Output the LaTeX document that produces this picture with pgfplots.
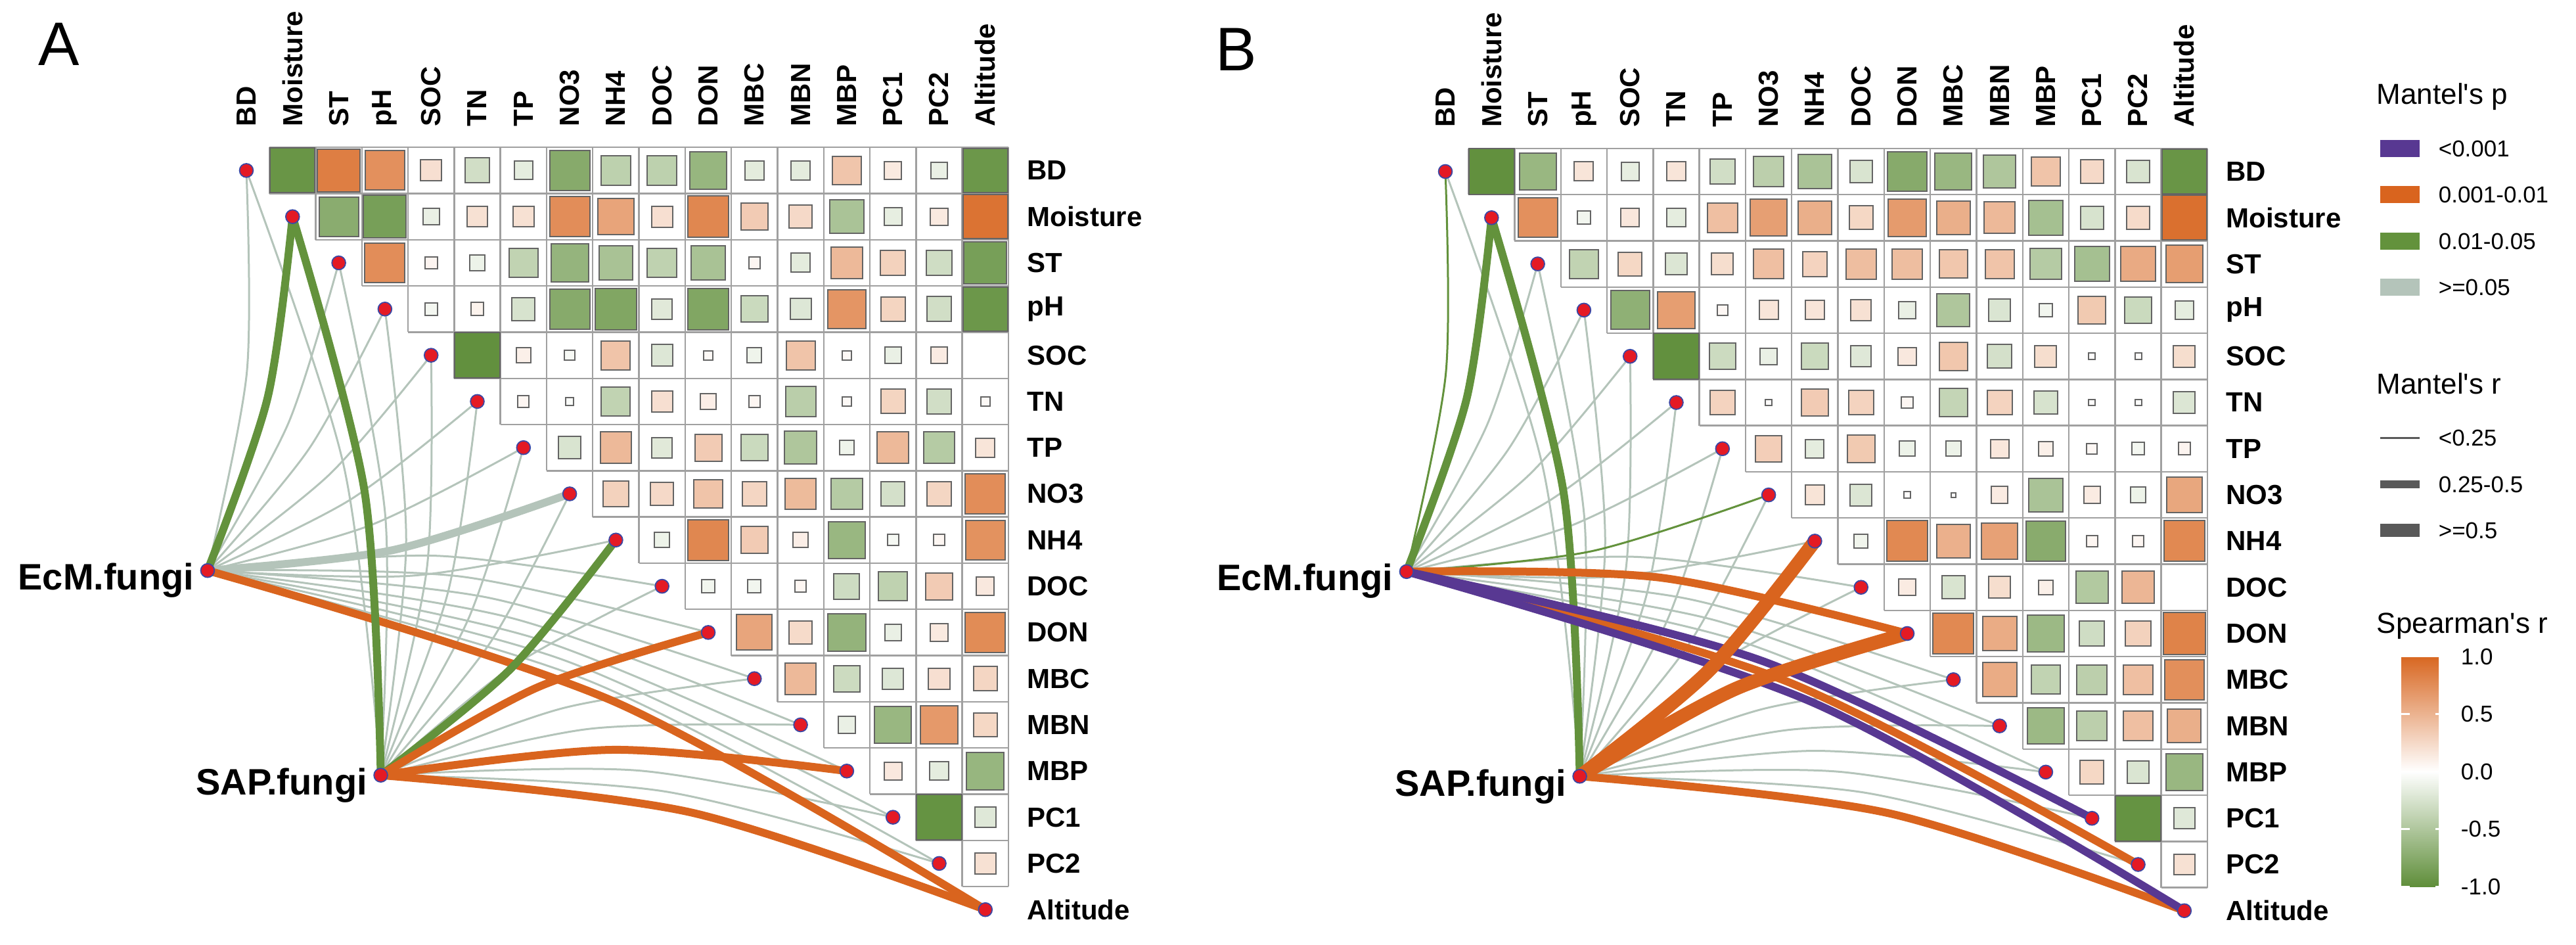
\documentclass[border=0pt]{standalone}
\usepackage{pgfplots}
\pgfplotsset{compat=1.18}
\usepackage{pgfplotstable}
\usepackage{fontspec}
\setmainfont{Liberation Sans}
\newfontfamily\lsans{Liberation Sans}

\definecolor{lgrey}{RGB}{180,196,186}
\definecolor{lorange}{RGB}{217,100,30}
\definecolor{lgreen}{RGB}{99,146,60}
\definecolor{lpurple}{RGB}{88,56,146}
\definecolor{ldark}{RGB}{89,89,89}
\definecolor{gridc}{RGB}{160,160,160}
\definecolor{sqedge}{RGB}{100,100,100}
\definecolor{dotred}{RGB}{228,26,36}
\definecolor{dotblue}{RGB}{60,72,165}

\newcommand\labfont{\lsans\bfseries\fontsize{10.5}{12}\selectfont}
\newcommand\srcfont{\lsans\bfseries\fontsize{14}{16}\selectfont}
\newcommand\legtitle{\lsans\fontsize{11}{13}\selectfont}
\newcommand\leglab{\lsans\fontsize{8.75}{10}\selectfont}

\pgfplotsset{
  colormap={gwo}{rgb255=(95,142,58) rgb255=(255,255,255) rgb255=(216,103,33)},
  panel/.style={
    x=17.575pt, y=17.575pt,
    xmin=-0.5, xmax=16.5, ymin=-16.5, ymax=0.5,
    anchor=south west, clip=false,
    axis line style={draw=none}, tick style={draw=none}, major tick length=0pt,
    xtick={0,1,2,3,4,5,6,7,8,9,10,11,12,13,14,15,16},
    xticklabels={BD,Moisture,ST,pH,SOC,TN,TP,NO3,NH4,DOC,DON,MBC,MBN,MBP,PC1,PC2,Altitude},
    xticklabel pos=right,
    xticklabel style={rotate=90, anchor=west, inner sep=0pt, font=\labfont},
    xticklabel shift=7.8pt,
    ytick={-16,-15,-14,-13,-12,-11,-10,-9,-8,-7,-6,-5,-4,-3,-2,-1,0},
    yticklabels={Altitude,PC2,PC1,MBP,MBN,MBC,DON,DOC,NH4,NO3,TP,TN,SOC,pH,ST,Moisture,BD},
    yticklabel pos=right,
    yticklabel style={anchor=west, inner sep=0pt, font=\labfont},
    yticklabel shift=6.9pt,
    colormap name=gwo, point meta min=-1, point meta max=1,
  },
  gridlines/.style={gridc, line width=0.6pt, unbounded coords=jump},
  sq/.style={scatter, only marks, mark=square*, point meta=explicit,
    scatter/use mapped color={draw=sqedge, fill=mapped color},
    visualization depends on={8.7875*sqrt(abs(\thisrow{r})) \as \msz},
    scatter/@pre marker code/.append style={/tikz/mark size=\msz},
    mark options={line width=0.5pt}},
  dots/.style={only marks, mark=*, mark size=2.6pt,
    mark options={fill=dotred, draw=dotblue, line width=0.45pt}},
  lk/.style={smooth, line cap=butt},
  pG/.style={lgrey}, pO/.style={lorange}, pN/.style={lgreen}, pP/.style={lpurple},
  r1/.style={line width=0.75pt}, r2/.style={line width=3pt}, r3/.style={line width=5.2pt},
}

% Spearman correlations, panel A (x = column, y = -row)
\pgfplotstableread{
x y r
1 0 -0.94
2 0 0.85
3 0 0.73
4 0 0.21
5 0 -0.29
6 0 -0.16
7 0 -0.75
8 0 -0.41
9 0 -0.41
10 0 -0.65
11 0 -0.17
12 0 -0.17
13 0 0.38
14 0 0.14
15 0 -0.13
16 0 -0.92
2 -1 -0.73
3 -1 -0.85
4 -1 -0.13
5 -1 0.20
6 -1 0.20
7 -1 0.75
8 -1 0.60
9 -1 0.21
10 -1 0.79
11 -1 0.34
12 -1 0.25
13 -1 -0.53
14 -1 -0.15
15 -1 0.14
16 -1 0.92
3 -2 0.75
4 -2 0.07
5 -2 -0.11
6 -2 -0.39
7 -2 -0.66
8 -2 -0.54
9 -2 -0.40
10 -2 -0.54
11 -2 0.06
12 -2 -0.17
13 -2 0.46
14 -2 0.30
15 -2 -0.30
16 -2 -0.85
4 -3 -0.07
5 -3 0.08
6 -3 -0.25
7 -3 -0.75
8 -3 -0.79
9 -3 -0.19
10 -3 -0.79
11 -3 -0.33
12 -3 -0.21
13 -3 0.70
14 -3 0.28
15 -3 -0.29
16 -3 -0.92
5 -4 -0.98
6 -4 0.10
7 -4 -0.05
8 -4 0.39
9 -4 -0.21
10 -4 0.04
11 -4 -0.10
12 -4 0.39
13 -4 0.04
14 -4 -0.13
15 -4 0.13
6 -5 0.06
7 -5 -0.03
8 -5 -0.39
9 -5 0.21
10 -5 0.11
11 -5 0.06
12 -5 -0.43
13 -5 0.04
14 -5 0.28
15 -5 -0.29
16 -5 0.04
7 -6 -0.24
8 -6 0.46
9 -6 -0.19
10 -6 0.34
11 -6 -0.33
12 -6 -0.50
13 -6 -0.10
14 -6 0.46
15 -6 -0.46
16 -6 0.17
8 -7 0.30
9 -7 0.25
10 -7 0.39
11 -7 0.27
12 -7 0.45
13 -7 -0.46
14 -7 -0.27
15 -7 0.27
16 -7 0.75
9 -8 -0.11
10 -8 0.79
11 -8 0.34
12 -8 0.11
13 -8 -0.64
14 -8 -0.06
15 -8 0.06
16 -8 0.72
10 -9 -0.08
11 -9 -0.08
12 -9 0.06
13 -9 -0.31
14 -9 -0.40
15 -9 0.34
16 -9 0.15
11 -10 0.59
12 -10 0.24
13 -10 -0.67
14 -10 -0.13
15 -10 0.14
16 -10 0.76
12 -11 0.46
13 -11 -0.32
14 -11 -0.21
15 -11 0.21
16 -11 0.27
13 -12 -0.13
14 -12 -0.64
15 -12 0.67
16 -12 0.26
14 -13 0.15
15 -13 -0.16
16 -13 -0.65
15 -14 -0.96
16 -14 -0.20
16 -15 0.20
}\tabA

% Spearman correlations, panel B
\pgfplotstableread{
x y r
1 0 -0.98
2 0 -0.64
3 0 0.17
4 0 -0.15
5 0 0.17
6 0 -0.29
7 0 -0.42
8 0 -0.53
9 0 -0.24
10 0 -0.75
11 0 -0.64
12 0 -0.50
13 0 0.39
14 0 0.25
15 0 -0.24
16 0 -0.94
2 -1 0.73
3 -1 -0.08
4 -1 0.16
5 -1 -0.16
6 -1 0.42
7 -1 0.63
8 -1 0.53
9 -1 0.26
10 -1 0.66
11 -1 0.53
12 -1 0.46
13 -1 -0.56
14 -1 -0.25
15 -1 0.24
16 -1 0.94
3 -2 -0.39
4 -2 0.26
5 -2 -0.22
6 -2 0.22
7 -2 0.42
8 -2 0.29
9 -2 0.43
10 -2 0.43
11 -2 0.37
12 -2 0.39
13 -2 -0.46
14 -2 -0.56
15 -2 0.56
16 -2 0.64
4 -3 -0.70
5 -3 0.64
6 -3 0.05
7 -3 0.17
8 -3 0.17
9 -3 0.20
10 -3 -0.13
11 -3 -0.50
12 -3 -0.23
13 -3 -0.08
14 -3 0.35
15 -3 -0.33
16 -3 -0.16
5 -4 -0.98
6 -4 -0.32
7 -4 -0.13
8 -4 -0.33
9 -4 -0.20
10 -4 0.15
11 -4 0.37
12 -4 -0.27
13 -4 0.22
14 -4 0.02
15 -4 0.02
16 -4 0.22
6 -5 0.29
7 -5 0.02
8 -5 0.34
9 -5 0.29
10 -5 0.06
11 -5 -0.37
12 -5 0.29
13 -5 -0.25
14 -5 0.02
15 -5 -0.02
16 -5 -0.22
7 -6 0.32
8 -6 -0.16
9 -6 0.35
10 -6 -0.11
11 -6 -0.11
12 -6 0.16
13 -6 0.10
14 -6 0.05
15 -6 -0.07
16 -6 0.07
8 -7 0.18
9 -7 -0.22
10 -7 0.02
11 -7 0.01
12 -7 0.13
13 -7 -0.53
14 -7 0.13
15 -7 -0.11
16 -7 0.58
9 -8 -0.09
10 -8 0.78
11 -8 0.52
12 -8 0.62
13 -8 -0.74
14 -8 0.06
15 -8 0.06
16 -8 0.78
10 -9 0.13
11 -9 -0.24
12 -9 0.22
13 -9 0.10
14 -9 -0.48
15 -9 0.48
11 -10 0.78
12 -10 0.55
13 -10 -0.62
14 -10 -0.30
15 -10 0.30
16 -10 0.82
12 -11 0.55
13 -11 -0.39
14 -11 -0.42
15 -11 0.42
16 -11 0.74
13 -12 -0.62
14 -12 -0.42
15 -12 0.42
16 -12 0.53
14 -13 0.26
15 -13 -0.23
16 -13 -0.64
15 -14 -0.96
16 -14 -0.20
16 -15 0.20
}\tabB

\newcommand\gridplot{%
\addplot[gridlines] coordinates {
(0.5,0.5) (16.5,0.5) (nan,nan)
(0.5,-0.5) (16.5,-0.5) (nan,nan)
(1.5,-1.5) (16.5,-1.5) (nan,nan)
(2.5,-2.5) (16.5,-2.5) (nan,nan)
(3.5,-3.5) (16.5,-3.5) (nan,nan)
(4.5,-4.5) (16.5,-4.5) (nan,nan)
(5.5,-5.5) (16.5,-5.5) (nan,nan)
(6.5,-6.5) (16.5,-6.5) (nan,nan)
(7.5,-7.5) (16.5,-7.5) (nan,nan)
(8.5,-8.5) (16.5,-8.5) (nan,nan)
(9.5,-9.5) (16.5,-9.5) (nan,nan)
(10.5,-10.5) (16.5,-10.5) (nan,nan)
(11.5,-11.5) (16.5,-11.5) (nan,nan)
(12.5,-12.5) (16.5,-12.5) (nan,nan)
(13.5,-13.5) (16.5,-13.5) (nan,nan)
(14.5,-14.5) (16.5,-14.5) (nan,nan)
(15.5,-15.5) (16.5,-15.5) (nan,nan)
(0.5,0.5) (0.5,-0.5) (nan,nan)
(1.5,0.5) (1.5,-1.5) (nan,nan)
(2.5,0.5) (2.5,-2.5) (nan,nan)
(3.5,0.5) (3.5,-3.5) (nan,nan)
(4.5,0.5) (4.5,-4.5) (nan,nan)
(5.5,0.5) (5.5,-5.5) (nan,nan)
(6.5,0.5) (6.5,-6.5) (nan,nan)
(7.5,0.5) (7.5,-7.5) (nan,nan)
(8.5,0.5) (8.5,-8.5) (nan,nan)
(9.5,0.5) (9.5,-9.5) (nan,nan)
(10.5,0.5) (10.5,-10.5) (nan,nan)
(11.5,0.5) (11.5,-11.5) (nan,nan)
(12.5,0.5) (12.5,-12.5) (nan,nan)
(13.5,0.5) (13.5,-13.5) (nan,nan)
(14.5,0.5) (14.5,-14.5) (nan,nan)
(15.5,0.5) (15.5,-15.5) (nan,nan)
(16.5,0.5) (16.5,-15.5)
};}

\newcommand\dotsplot{%
\addplot[dots] coordinates {(0,0) (1,-1) (2,-2) (3,-3) (4,-4) (5,-5) (6,-6) (7,-7) (8,-8) (9,-9) (10,-10) (11,-11) (12,-12) (13,-13) (14,-14) (15,-15) (16,-16) (-0.84,-8.66) (2.91,-13.09)};
\node[anchor=base east, inner sep=0pt, xshift=-5pt, yshift=-7.3pt, font=\srcfont] at (axis cs:-0.84,-8.66) {EcM.fungi};
\node[anchor=base east, inner sep=0pt, xshift=-5pt, yshift=-7.5pt, font=\srcfont] at (axis cs:2.91,-13.09) {SAP.fungi};}

\begin{document}
\begin{tikzpicture}
\path[use as bounding box] (0,0) rectangle (980.25pt,359.25pt);

% ================= Panel A =================
\begin{axis}[panel, at={(84.9625pt,4.4125pt)}]
\gridplot
\addplot[sq] table[x=x, y=y, meta=r] {\tabA};
% EcM.fungi links
\addplot[lk,pG,r1] coordinates {(-0.84,-8.66) (0.01,-4.37) (0,0)};
\addplot[lk,pG,r1] coordinates {(-0.84,-8.66) (0.91,-5.47) (2,-2)};
\addplot[lk,pG,r1] coordinates {(-0.84,-8.66) (1.36,-6.02) (3,-3)};
\addplot[lk,pG,r1] coordinates {(-0.84,-8.66) (1.81,-6.57) (4,-4)};
\addplot[lk,pG,r1] coordinates {(-0.84,-8.66) (2.26,-7.12) (5,-5)};
\addplot[lk,pG,r1] coordinates {(-0.84,-8.66) (2.71,-7.67) (6,-6)};
\addplot[lk,pG,r1] coordinates {(-0.84,-8.66) (3.61,-8.77) (8,-8)};
\addplot[lk,pG,r1] coordinates {(-0.84,-8.66) (4.10,-8.34) (9,-9)};
\addplot[lk,pG,r1] coordinates {(-0.84,-8.66) (4.65,-8.79) (10,-10)};
\addplot[lk,pG,r1] coordinates {(-0.84,-8.66) (5.20,-9.24) (11,-11)};
\addplot[lk,pG,r1] coordinates {(-0.84,-8.66) (5.75,-9.69) (12,-12)};
\addplot[lk,pG,r1] coordinates {(-0.84,-8.66) (6.30,-10.14) (13,-13)};
\addplot[lk,pG,r1] coordinates {(-0.84,-8.66) (6.85,-10.59) (14,-14)};
\addplot[lk,pG,r1] coordinates {(-0.84,-8.66) (7.40,-11.04) (15,-15)};
% SAP.fungi links
\addplot[lk,pG,r1] coordinates {(2.91,-13.09) (2.11,-6.40) (0,0)};
\addplot[lk,pG,r1] coordinates {(2.91,-13.09) (3.01,-7.50) (2,-2)};
\addplot[lk,pG,r1] coordinates {(2.91,-13.09) (3.46,-8.05) (3,-3)};
\addplot[lk,pG,r1] coordinates {(2.91,-13.09) (3.91,-8.60) (4,-4)};
\addplot[lk,pG,r1] coordinates {(2.91,-13.09) (4.36,-9.15) (5,-5)};
\addplot[lk,pG,r1] coordinates {(2.91,-13.09) (4.81,-9.70) (6,-6)};
\addplot[lk,pG,r1] coordinates {(2.91,-13.09) (5.26,-10.25) (7,-7)};
\addplot[lk,pG,r1] coordinates {(2.91,-13.09) (5.75,-10.74) (9,-9)};
\addplot[lk,pG,r1] coordinates {(2.91,-13.09) (6.85,-11.64) (11,-11)};
\addplot[lk,pG,r1] coordinates {(2.91,-13.09) (7.40,-12.09) (12,-12)};
\addplot[lk,pG,r1] coordinates {(2.91,-13.09) (8.50,-12.99) (14,-14)};
\addplot[lk,pG,r1] coordinates {(2.91,-13.09) (9.05,-13.44) (15,-15)};
% significant / strong links
\addplot[lk,pG,r2] coordinates {(-0.84,-8.66) (3.16,-8.22) (7,-7)};
\addplot[lk,pN,r2] coordinates {(-0.84,-8.66) (0.46,-4.92) (1,-1)};
\addplot[lk,pO,r2] coordinates {(-0.84,-8.66) (7.95,-11.49) (16,-16)};
\addplot[lk,pN,r2] coordinates {(2.91,-13.09) (2.56,-6.95) (1,-1)};
\addplot[lk,pN,r2] coordinates {(2.91,-13.09) (5.71,-10.80) (8,-8)};
\addplot[lk,pO,r2] coordinates {(2.91,-13.09) (6.30,-11.19) (10,-10)};
\addplot[lk,pO,r2] coordinates {(2.91,-13.09) (7.95,-12.54) (13,-13)};
\addplot[lk,pO,r2] coordinates {(2.91,-13.09) (9.60,-13.89) (16,-16)};
\dotsplot
\end{axis}

% ================= Panel B =================
\begin{axis}[panel, at={(541.2125pt,4.0125pt)}]
\gridplot
\addplot[sq] table[x=x, y=y, meta=r] {\tabB};
% EcM.fungi links
\addplot[lk,pG,r1] coordinates {(-0.84,-8.66) (0.91,-5.47) (2,-2)};
\addplot[lk,pG,r1] coordinates {(-0.84,-8.66) (1.36,-6.02) (3,-3)};
\addplot[lk,pG,r1] coordinates {(-0.84,-8.66) (1.81,-6.57) (4,-4)};
\addplot[lk,pG,r1] coordinates {(-0.84,-8.66) (2.26,-7.12) (5,-5)};
\addplot[lk,pG,r1] coordinates {(-0.84,-8.66) (2.71,-7.67) (6,-6)};
\addplot[lk,pG,r1] coordinates {(-0.84,-8.66) (3.61,-8.77) (8,-8)};
\addplot[lk,pG,r1] coordinates {(-0.84,-8.66) (4.10,-8.34) (9,-9)};
\addplot[lk,pG,r1] coordinates {(-0.84,-8.66) (5.20,-9.24) (11,-11)};
\addplot[lk,pG,r1] coordinates {(-0.84,-8.66) (5.75,-9.69) (12,-12)};
\addplot[lk,pG,r1] coordinates {(-0.84,-8.66) (6.30,-10.14) (13,-13)};
% SAP.fungi links
\addplot[lk,pG,r1] coordinates {(2.91,-13.09) (2.11,-6.40) (0,0)};
\addplot[lk,pG,r1] coordinates {(2.91,-13.09) (3.01,-7.50) (2,-2)};
\addplot[lk,pG,r1] coordinates {(2.91,-13.09) (3.46,-8.05) (3,-3)};
\addplot[lk,pG,r1] coordinates {(2.91,-13.09) (3.91,-8.60) (4,-4)};
\addplot[lk,pG,r1] coordinates {(2.91,-13.09) (4.36,-9.15) (5,-5)};
\addplot[lk,pG,r1] coordinates {(2.91,-13.09) (4.81,-9.70) (6,-6)};
\addplot[lk,pG,r1] coordinates {(2.91,-13.09) (5.26,-10.25) (7,-7)};
\addplot[lk,pG,r1] coordinates {(2.91,-13.09) (5.75,-10.74) (9,-9)};
\addplot[lk,pG,r1] coordinates {(2.91,-13.09) (6.85,-11.64) (11,-11)};
\addplot[lk,pG,r1] coordinates {(2.91,-13.09) (7.40,-12.09) (12,-12)};
\addplot[lk,pG,r1] coordinates {(2.91,-13.09) (7.95,-12.54) (13,-13)};
\addplot[lk,pG,r1] coordinates {(2.91,-13.09) (8.50,-12.99) (14,-14)};
\addplot[lk,pG,r1] coordinates {(2.91,-13.09) (9.05,-13.44) (15,-15)};
% significant / strong links
\addplot[lk,pN,r1] coordinates {(-0.84,-8.66) (0.01,-4.37) (0,0)};
\addplot[lk,pN,r1] coordinates {(-0.84,-8.66) (3.16,-8.22) (7,-7)};
\addplot[lk,pN,r2] coordinates {(-0.84,-8.66) (0.46,-4.92) (1,-1)};
\addplot[lk,pN,r2] coordinates {(2.91,-13.09) (2.56,-6.95) (1,-1)};
\addplot[lk,pO,r2] coordinates {(-0.84,-8.66) (4.65,-8.79) (10,-10)};
\addplot[lk,pO,r2] coordinates {(-0.84,-8.66) (7.40,-11.04) (15,-15)};
\addplot[lk,pO,r2] coordinates {(2.91,-13.09) (9.60,-13.89) (16,-16)};
\addplot[lk,pP,r2] coordinates {(-0.84,-8.66) (6.85,-10.59) (14,-14)};
\addplot[lk,pP,r2] coordinates {(-0.84,-8.66) (7.95,-11.49) (16,-16)};
\addplot[lk,pO,r3] coordinates {(2.91,-13.09) (5.71,-10.80) (8,-8)};
\addplot[lk,pO,r3] coordinates {(2.91,-13.09) (6.30,-11.19) (10,-10)};
\dotsplot
\end{axis}

% ================= Legends and panel letters (pixel coordinates) =================
\begin{axis}[at={(0pt,0pt)}, anchor=south west, x=0.25pt, y=0.25pt, y dir=reverse,
  xmin=0, xmax=3921, ymin=0, ymax=1437, hide axis, clip=false]
\node[anchor=base west, inner sep=0pt, font=\lsans\fontsize{23.4}{28}\selectfont] at (axis cs:58,99) {A};
\node[anchor=base west, inner sep=0pt, font=\lsans\fontsize{23.4}{28}\selectfont] at (axis cs:1850,107) {B};
% Mantel's p
\node[anchor=west, inner sep=0pt, font=\legtitle] at (axis cs:3617,147) {Mantel's p};
\addplot[lpurple, line width=6.5pt] coordinates {(3623,226) (3683,226)};
\addplot[lorange, line width=6.5pt] coordinates {(3623,296) (3683,296)};
\addplot[lgreen, line width=6.5pt] coordinates {(3623,367) (3683,367)};
\addplot[lgrey, line width=6.5pt] coordinates {(3623,437) (3683,437)};
\node[anchor=west, inner sep=0pt, font=\leglab] at (axis cs:3711,226) {<0.001};
\node[anchor=west, inner sep=0pt, font=\leglab] at (axis cs:3711,296) {0.001-0.01};
\node[anchor=west, inner sep=0pt, font=\leglab] at (axis cs:3711,367) {0.01-0.05};
\node[anchor=west, inner sep=0pt, font=\leglab] at (axis cs:3711,437) {>=0.05};
% Mantel's r
\node[anchor=west, inner sep=0pt, font=\legtitle] at (axis cs:3617,584) {Mantel's r};
\addplot[ldark, line width=0.75pt] coordinates {(3623,666) (3683,666)};
\addplot[ldark, line width=3pt] coordinates {(3623,737) (3683,737)};
\addplot[ldark, line width=5.2pt] coordinates {(3623,807) (3683,807)};
\node[anchor=west, inner sep=0pt, font=\leglab] at (axis cs:3711,666) {<0.25};
\node[anchor=west, inner sep=0pt, font=\leglab] at (axis cs:3711,737) {0.25-0.5};
\node[anchor=west, inner sep=0pt, font=\leglab] at (axis cs:3711,807) {>=0.5};
% Spearman's r
\node[anchor=west, inner sep=0pt, font=\legtitle] at (axis cs:3617,953) {Spearman's r};
\end{axis}

\pgfplotscolorbardrawstandalone[
  colormap name=gwo, point meta min=-1, point meta max=1,
  colorbar style={
    at={(905.25pt,109.5pt)}, anchor=north west,
    width=16.25pt, height=87.5pt, scale only axis,
    axis line style={draw=none},
    ytick={-1,-0.5,0,0.5,1},
    yticklabels={-1.0,-0.5,0.0,0.5,1.0},
    yticklabel style={font=\leglab, inner sep=0pt},
    yticklabel shift=6.25pt,
    ytick pos=both, tick align=inside, major tick length=3.25pt,
    ytick style={draw=white, line width=0.6pt},
    axis on top,
  }]
\end{tikzpicture}
\end{document}
